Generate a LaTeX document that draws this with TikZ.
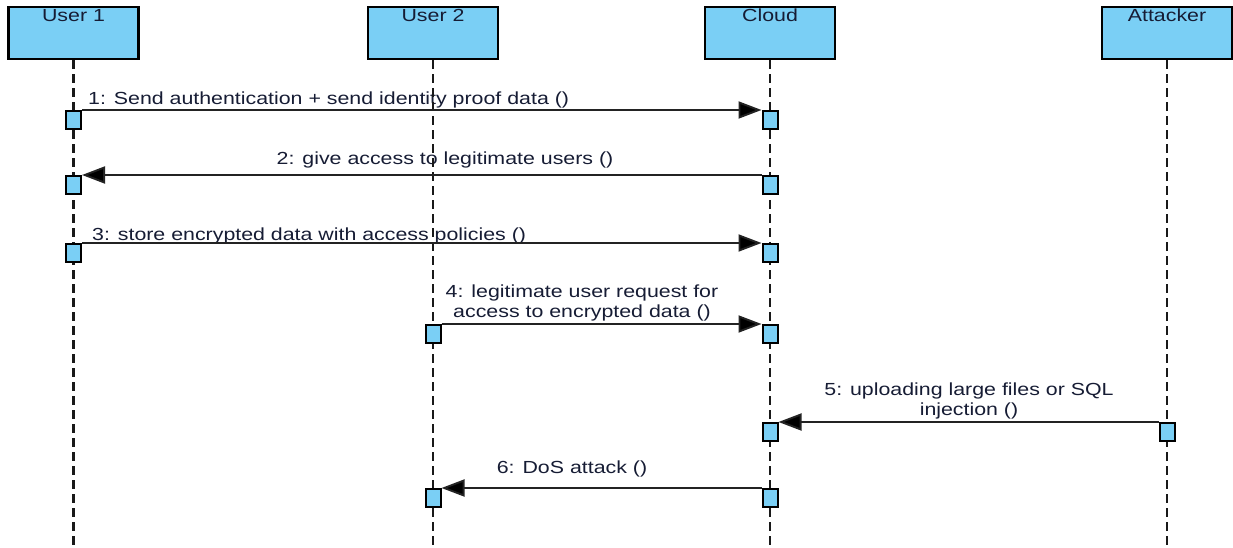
\documentclass[tikz,border=0pt]{standalone}
\usepackage{fontspec}
\setmainfont[FakeStretch=1.22]{Liberation Sans}
\usetikzlibrary{arrows.meta}
\definecolor{lifeblue}{RGB}{122,207,245}
\definecolor{msgtext}{RGB}{22,28,52}
\definecolor{msgline}{RGB}{35,35,35}
\begin{document}
\begin{tikzpicture}[x=1pt,y=-1pt,
  font=\fontsize{17.5}{20}\selectfont,
  actor/.style={draw=black, line width=2.2pt, fill=lifeblue, minimum width=130pt,
    minimum height=52pt, anchor=north, inner sep=0pt},
  actorname/.style={anchor=north, inner sep=0pt, text=msgtext},
  lifeline/.style={draw=black!90, line width=2.2pt, dash pattern=on 9pt off 5pt},
  activation/.style={draw=black, line width=2pt, fill=lifeblue, minimum width=15pt,
    minimum height=18pt, inner sep=0pt, anchor=north},
  message/.style={draw=msgline, line width=1.9pt, -{Triangle[length=23pt,width=17pt,fill=black]}},
  msglabel/.style={inner sep=0pt, text=msgtext, align=center}
]
\useasboundingbox (0,0) rectangle (1233,548);

% participants
\node[actor] (u1) at (73.5,6) {};
\node[actor] (u2) at (433,6) {};
\node[actor] (cl) at (770,6) {};
\node[actor] (at) at (1167,6) {};
\node[actorname] (u1t) at (73.5,9) {User 1};
\node[actorname] (u2t) at (433,9) {User 2};
\node[actorname] (clt) at (770,9) {Cloud};
\node[actorname] (att) at (1167,9) {Attacker};

% lifeline ends
\coordinate (u1e) at (73.5,548);
\coordinate (u2e) at (433,548);
\coordinate (cle) at (770,548);
\coordinate (ate) at (1167,548);

% message labels
\node[msglabel, anchor=base west] (l1) at (88,105) {1: Send authentication + send identity proof data ()};
\node[msglabel, anchor=base] (l2) at (445,165) {2: give access to legitimate users ()};
\node[msglabel, anchor=base west] (l3) at (92,240) {3: store encrypted data with access policies ()};
\node[msglabel, anchor=south] (l4) at (582,321) {4: legitimate user request for\\access to encrypted data ()};
\node[msglabel, anchor=south] (l5) at (969,419) {5: uploading large files or SQL\\injection ()};
\node[msglabel, anchor=base] (l6) at (572,473) {6: DoS attack ()};

% lifelines
\draw[lifeline] (u1.south) -- (u1e);
\draw[lifeline] (u2.south) -- (u2e);
\draw[lifeline] (cl.south) -- (cle);
\draw[lifeline] (at.south) -- (ate);

% activations
\node[activation] (m1s) at (73.5,110) {};
\node[activation] (m1t) at (770,110) {};
\node[activation] (m2s) at (770,175) {};
\node[activation] (m2t) at (73.5,175) {};
\node[activation] (m3s) at (73.5,243) {};
\node[activation] (m3t) at (770,243) {};
\node[activation] (m4s) at (433,324) {};
\node[activation] (m4t) at (770,324) {};
\node[activation] (m5s) at (1167,422) {};
\node[activation] (m5t) at (770,422) {};
\node[activation] (m6s) at (770,488) {};
\node[activation] (m6t) at (433,488) {};

% messages
\draw[message] (m1s.north east) -- (m1t.north west);
\draw[message] (m2s.north west) -- (m2t.north east);
\draw[message] (m3s.north east) -- (m3t.north west);
\draw[message] (m4s.north east) -- (m4t.north west);
\draw[message] (m5s.north west) -- (m5t.north east);
\draw[message] (m6s.north west) -- (m6t.north east);
\end{tikzpicture}
\end{document}
